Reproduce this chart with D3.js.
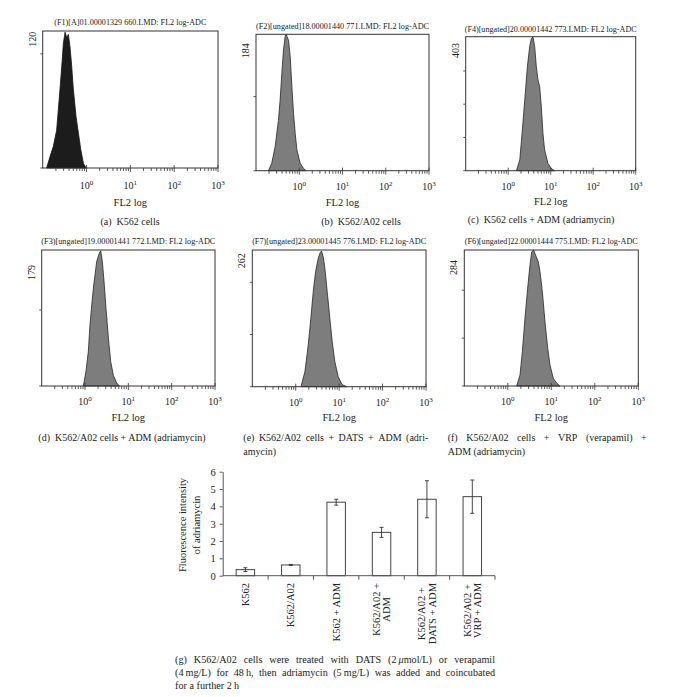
<!DOCTYPE html>
<html><head><meta charset="utf-8">
<script src="https://cdn.jsdelivr.net/npm/d3@7"></script>
<style>
body{margin:0;background:#fff}
svg{display:block}
text{font-family:"Liberation Serif","DejaVu Serif",serif;fill:#222;white-space:pre}
</style>
</head><body><svg id="c" width="673" height="697"></svg>
<script>
// ---------------- DATA ----------------
const histTitles = [
  "(F1)[A]01.00001329 660.LMD: FL2 log-ADC",
  "(F2)[ungated]18.00001440 771.LMD: FL2 log-ADC",
  "(F4)[ungated]20.00001442 773.LMD: FL2 log-ADC",
  "(F3)[ungated]19.00001441 772.LMD: FL2 log-ADC",
  "(F7)[ungated]23.00001445 776.LMD: FL2 log-ADC",
  "(F6)[ungated]22.00001444 775.LMD: FL2 log-ADC"
];
const histMax = [120, 184, 403, 179, 262, 284];
const histYTicks = [[100], [100], [100, 200, 300], [100], [100, 200], [100, 200]];
const xDecades = [1, 10, 100, 1000];
const xDecadeExp = ["0", "1", "2", "3"];
const xAxisLabel = "FL2 log";

// FL2 values and event counts
const histA_fl2 = [0.123,0.147,0.175,0.208,0.248,0.272,0.296,0.324,0.353,0.385,0.42,0.459,0.50,0.577,0.65,0.74,0.85,0.98];
const histA_cnt = [0,10,19,33,69,89,109,119,114,117,106,89,69,45,31,16,4,0];
const histB_fl2 = [0.194,0.231,0.277,0.330,0.361,0.395,0.432,0.472,0.499,0.536,0.565,0.618,0.676,0.738,0.807,0.883,1.05,1.26,1.43];
const histB_cnt = [0,10,32,68,95,131,163,181,184,179,176,154,113,77,50,28,10,3,0];
const histC_fl2 = [1.56,1.87,2.12,2.45,2.83,3.2,3.51,3.84,4.2,4.59,5.02,5.5,6.01,6.58,7.19,8.61,10.3,12.3];
const histC_cnt = [0,32,112,212,313,373,398,401,373,313,273,253,193,112,62,22,7,0];
const histD_fl2 = [0.914,1.05,1.19,1.30,1.43,1.56,1.70,1.86,2.14,2.30,2.51,2.75,3.05,3.46,3.92,4.51,5.38,6.21];
const histD_cnt = [0,19,45,80,107,129,146,164,175,178,164,137,102,63,32,14,4,0];
const histE_fl2 = [1.32,1.63,1.94,2.23,2.53,2.86,3.30,3.66,3.93,4.30,4.69,5.31,6.11,6.92,7.96,9.5,11.7,14.8];
const histE_cnt = [0,29,80,131,182,220,246,257,260,249,227,182,131,86,48,19,4,0];
const histF_fl2 = [1.60,1.91,2.16,2.48,2.86,3.24,3.54,3.93,4.37,5.04,5.50,6.22,7.16,8.26,9.33,11.1,13.3,15.8];
const histF_cnt = [0,23,72,141,204,253,280,284,273,259,239,197,134,79,44,16,6,0];

const captionsTop = [
  ["(a)  K562 cells"],
  ["(b)  K562/A02 cells"],
  ["(c)  K562 cells + ADM (adriamycin)"],
  ["(d)  K562/A02 cells + ADM (adriamycin)"],
  ["(e) K562/A02 cells + DATS + ADM (adri-", "amycin)"],
  ["(f) K562/A02 cells + VRP (verapamil) +", "ADM (adriamycin)"]
];

const barCategories = ["K562", "K562/A02", "K562 + ADM", "K562/A02 +\nADM", "K562/A02 +\nDATS + ADM", "K562/A02 +\nVRP + ADM"];
const barValues = [0.35, 0.62, 4.24, 2.50, 4.41, 4.56];
const barErrors = [0.11, 0.03, 0.17, 0.29, 1.07, 0.96];
const barYTicks = [0, 1, 2, 3, 4, 5, 6];
const barYTitle = ["Fluorescence intensity", "of adriamycin"];
const captionG = [
  "(g) K562/A02 cells were treated with DATS (2\u2009μmol/L) or verapamil",
  "(4\u2009mg/L) for 48\u2009h, then adriamycin (5\u2009mg/L) was added and coincubated",
  "for a further 2\u2009h"
];

// ---------------- LAYOUT ----------------
const histData = [
  [histA_fl2, histA_cnt], [histB_fl2, histB_cnt], [histC_fl2, histC_cnt],
  [histD_fl2, histD_cnt], [histE_fl2, histE_cnt], [histF_fl2, histF_cnt]
];
const panelLayout = [
  {box:[42.7,31,218,168],     title:25.3, titleW:152, tick:189,   xl:206,   cap:[224.5],      capX:130, ylOff:0.7, dark:true},
  {box:[256,34.3,429,170.7],  title:29,   titleW:173, tick:190,   xl:205.5, cap:[225],        capX:361, ylOff:9},
  {box:[465.7,36.7,635.7,170.7], title:31.5, titleW:172, tick:189.5, xl:205, cap:[222.5],     capX:541, ylOff:6.3},
  {box:[41.7,250,215,386],    title:243.5, titleW:174, tick:405,  xl:421,   cap:[440.5],      capX:122, ylOff:15},
  {box:[252.3,250,426,386.7], title:243.5, titleW:174, tick:406,  xl:421,   cap:[440.5,455],  just:[243.3,428.3], ylOff:3.3},
  {box:[464.3,250,638.3,386], title:243.5, titleW:173, tick:405,  xl:421,   cap:[440.5,455],  just:[447.7,646.7], ylOff:10}
];

const svg = d3.select("#c");

function justifyLine(g, str, x0, x1, y, size, justify) {
  const words = str.split(" ");
  const els = words.map(w => {
    const t = g.append("text").attr("y", y).style("font-size", size + "px");
    w.split(/(μ)/).forEach(p => {
      if (!p) return;
      const ts = t.append("tspan").text(p);
      if (p === "μ") ts.style("font-style", "italic");
    });
    return t;
  });
  const widths = els.map(t => t.node().getComputedTextLength());
  const total = d3.sum(widths);
  const gap = justify ? (x1 - x0 - total) / (words.length - 1) : size * 0.25;
  let x = x0;
  els.forEach((t, i) => { t.attr("x", x); x += widths[i] + gap; });
}

// ---------------- HISTOGRAMS ----------------
panelLayout.forEach((L, i) => {
  const [bx0, by0, bx1, by1] = L.box;
  const g = svg.append("g");
  const x = d3.scaleLog().domain([0.1, 1000]).range([bx0, bx1]);
  const y = d3.scaleLinear().domain([0, histMax[i]]).range([by1, by0]);
  const [fl, cnt] = histData[i];
  const pts = fl.map((v, k) => ({v, n: cnt[k]}));

  g.append("path").datum(pts)
    .attr("d", d3.area().x(d => x(d.v)).y0(y(0)).y1(d => y(d.n)))
    .attr("fill", L.dark ? "#1c1c1c" : "#7d7d7d")
    .attr("stroke", L.dark ? "#111" : "#262626")
    .attr("stroke-width", 0.8);

  g.append("rect").attr("x", bx0).attr("y", by0).attr("width", bx1 - bx0).attr("height", by1 - by0)
    .attr("fill", "none").attr("stroke", "#333").attr("stroke-width", 1);

  // x ticks
  const minor = [];
  [0.1, 1, 10, 100].forEach(d => { for (let k = 2; k <= 9; k++) minor.push(k * d); });
  g.selectAll(".mn").data(minor).join("line")
    .attr("x1", d => x(d)).attr("x2", d => x(d)).attr("y1", by1).attr("y2", by1 + 3)
    .attr("stroke", "#333").attr("stroke-width", 0.8);
  g.selectAll(".mj").data(xDecades).join("line")
    .attr("x1", d => x(d)).attr("x2", d => x(d)).attr("y1", by1 - 3).attr("y2", by1 + 4)
    .attr("stroke", "#333").attr("stroke-width", 0.8);
  xDecades.forEach((d, k) => {
    const t = g.append("text").attr("x", x(d)).attr("y", L.tick).attr("text-anchor", "middle")
      .style("font-size", "10px");
    t.append("tspan").text("10");
    t.append("tspan").attr("dy", -4).style("font-size", "7px").text(xDecadeExp[k]);
  });
  g.append("text").attr("x", (bx0 + bx1) / 2).attr("y", L.xl).attr("text-anchor", "middle")
    .style("font-size", "10.5px").text(xAxisLabel);

  // y ticks
  g.selectAll(".yt").data(histYTicks[i].concat([0])).join("line")
    .attr("x1", bx0 - 2.5).attr("x2", bx0).attr("y1", d => y(d)).attr("y2", d => y(d))
    .attr("stroke", "#333").attr("stroke-width", 0.8);
  g.append("text").attr("transform", `translate(${bx0 - 7},${by0 + L.ylOff}) rotate(-90)`)
    .attr("text-anchor", "end").style("font-size", "10px").text(histMax[i]);

  // title
  g.append("text").attr("x", (bx0 + bx1) / 2).attr("y", L.title).attr("text-anchor", "middle")
    .attr("textLength", L.titleW).attr("lengthAdjust", "spacingAndGlyphs")
    .style("font-size", "7.4px").text(histTitles[i]);

  // caption
  const cap = captionsTop[i];
  if (L.just) {
    justifyLine(g, cap[0], L.just[0], L.just[1], L.cap[0], 10, true);
    justifyLine(g, cap[1], L.just[0], L.just[1], L.cap[1], 10, false);
  } else {
    g.append("text").attr("x", L.capX).attr("y", L.cap[0]).attr("text-anchor", "middle")
      .style("font-size", "10px").text(cap[0]);
  }
});

// ---------------- BAR CHART ----------------
const bx0 = 222.7, bx1 = 495, byTop = 471.7, byBot = 575.7;
const bg = svg.append("g");
const xb = d3.scaleBand().domain(barCategories).range([bx0, bx1]).paddingInner(0.593).paddingOuter(0.2965);
const yb = d3.scaleLinear().domain([0, 6]).range([byBot, byTop]);

bg.selectAll(".bar").data(barCategories).join("rect")
  .attr("x", d => xb(d)).attr("width", xb.bandwidth())
  .attr("y", (d, i) => yb(barValues[i])).attr("height", (d, i) => byBot - yb(barValues[i]))
  .attr("fill", "#fff").attr("stroke", "#444").attr("stroke-width", 1);

barCategories.forEach((c, i) => {
  const cx = xb(c) + xb.bandwidth() / 2;
  const hi = yb(barValues[i] + barErrors[i]), lo = yb(barValues[i] - barErrors[i]);
  bg.append("line").attr("x1", cx).attr("x2", cx).attr("y1", hi).attr("y2", lo).attr("stroke", "#333").attr("stroke-width", 0.9);
  [hi, lo].forEach(yy => bg.append("line").attr("x1", cx - 2).attr("x2", cx + 2).attr("y1", yy).attr("y2", yy)
    .attr("stroke", "#333").attr("stroke-width", 0.9));
});

const yAx = bg.append("g").attr("transform", `translate(${bx0},0)`)
  .call(d3.axisLeft(yb).tickValues(barYTicks).tickSizeInner(3).tickSizeOuter(0).tickPadding(4).tickFormat(d3.format("d")));
yAx.select(".domain").attr("stroke", "#555");
yAx.selectAll(".tick line").attr("stroke", "#555");
yAx.selectAll(".tick text").style("font-size", "10.5px").style("font-family", '"Liberation Serif","DejaVu Serif",serif').attr("fill", "#222");

// x axis line with boundary ticks
bg.append("line").attr("x1", bx0).attr("x2", bx1).attr("y1", byBot).attr("y2", byBot).attr("stroke", "#555");
const step = xb.step();
const bounds = barCategories.map((c, i) => xb(c) + xb.bandwidth() / 2 + step / 2);
bg.selectAll(".bt").data(bounds).join("line")
  .attr("x1", d => d).attr("x2", d => d).attr("y1", byBot).attr("y2", byBot + 4).attr("stroke", "#555");

// rotated category labels
barCategories.forEach(c => {
  const cx = xb(c) + xb.bandwidth() / 2;
  const lines = c.split("\n");
  const gl = bg.append("g").attr("transform", `translate(${cx},583) rotate(-90)`);
  const lh = 10.5;
  const ts = lines.map((s, k) => gl.append("text")
    .attr("y", (k - (lines.length - 1) / 2) * lh).attr("dy", "0.35em")
    .attr("text-anchor", "middle").style("font-size", "10.5px").text(s));
  const maxW = d3.max(ts, t => t.node().getComputedTextLength());
  ts.forEach(t => t.attr("x", -maxW / 2));
});

// y title
barYTitle.forEach((s, k) => {
  bg.append("text").attr("transform", `translate(${182 + k * 14.7},525) rotate(-90)`)
    .attr("text-anchor", "middle").attr("dy", "0.35em").style("font-size", "10.5px").text(s);
});

// caption g
captionG.forEach((s, k) => justifyLine(svg.append("g"), s, 175, 495, 663 + k * 13, 10.2, k < 2));
</script>
</body></html>
